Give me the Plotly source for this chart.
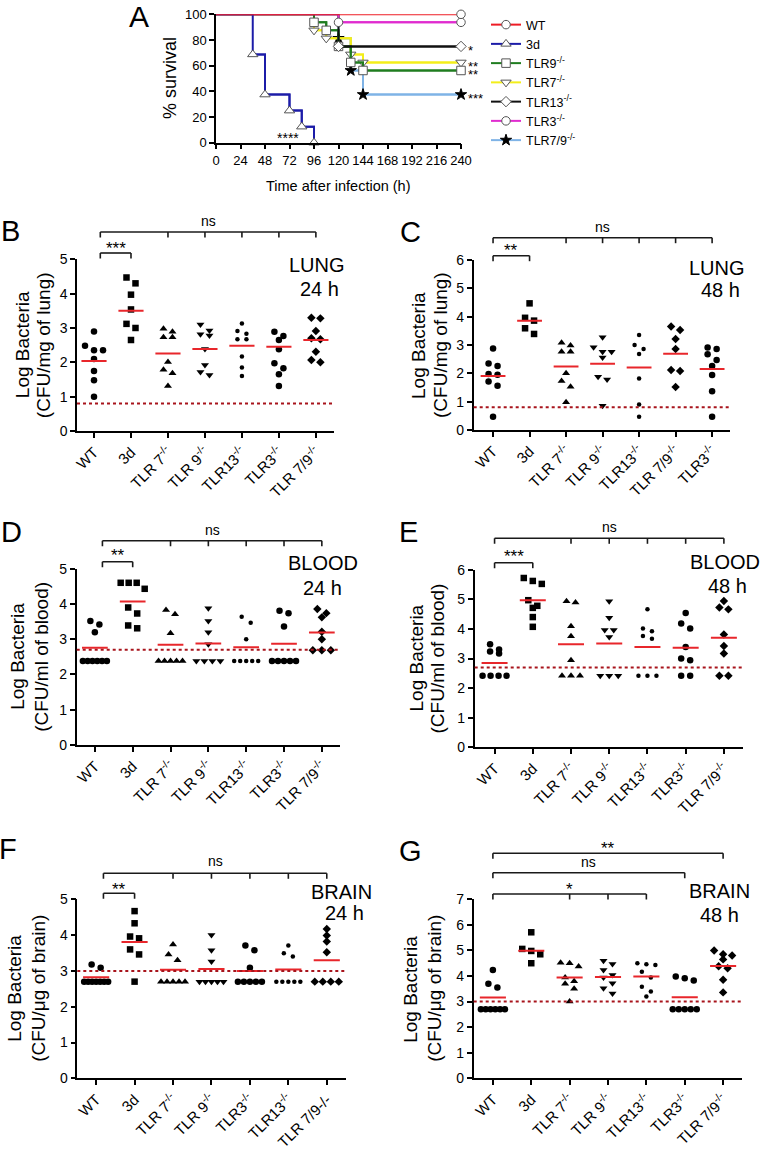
import plotly.graph_objects as go

W, H = 766, 1155
FONT = "Liberation Sans, Arial, Helvetica, sans-serif"

# ---------------- Panel A : survival (Kaplan-Meier) ----------------
wt_time = [0, 240]
wt_surv = [100, 100]
d3_time = [0, 36, 48, 72, 84, 96]
d3_surv = [100, 68.75, 37.5, 25, 12.5, 0]
tlr9_time = [0, 96, 108, 120, 132, 144, 240]
tlr9_surv = [100, 93.75, 87.5, 75, 62.5, 56.25, 56.25]
tlr7_time = [0, 96, 108, 132, 144, 240]
tlr7_surv = [100, 87.5, 81.25, 68.75, 62.5, 62.5]
tlr13_time = [0, 120, 240]
tlr13_surv = [100, 75, 75]
tlr3_time = [0, 120, 240]
tlr3_surv = [100, 93.75, 93.75]
tlr79_time = [0, 120, 132, 144, 240]
tlr79_surv = [100, 81.25, 56.25, 37.5, 37.5]
surv_sig = {"TLR13": "*", "TLR7": "**", "TLR9": "**", "TLR7/9": "***"}
d3_sig = "****"

# ---------------- Panels B-G : bacterial loads ----------------
lung24_cats = ["WT", "3d", "TLR7", "TLR9", "TLR13", "TLR3", "TLR7/9"]
lung24_vals = [
    [2.9, 2.48, 2.35, 2.35, 2.1, 1.75, 1.48, 1.0],
    [4.47, 4.3, 3.97, 3.54, 3.12, 3.0, 2.65],
    [2.98, 2.89, 2.73, 2.73, 2.01, 1.78, 1.68, 1.31],
    [3.1, 2.93, 2.82, 2.78, 2.39, 1.92, 1.72, 1.63],
    [3.13, 2.91, 2.83, 2.67, 2.67, 2.17, 1.85, 1.6],
    [2.89, 2.77, 2.65, 2.38, 1.97, 1.83, 1.65, 1.31],
    [3.3, 3.28, 2.91, 2.7, 2.67, 2.31, 2.07, 2.0],
]
lung24_means = [2.04, 3.5, 2.26, 2.39, 2.48, 2.45, 2.65]
lung24_lod = 0.8

lung48_cats = ["WT", "3d", "TLR7", "TLR9", "TLR13", "TLR7/9", "TLR3"]
lung48_vals = [
    [2.88, 2.35, 2.26, 1.98, 1.95, 1.71, 1.56, 0.47],
    [4.47, 3.96, 3.86, 3.59, 3.39],
    [3.08, 2.98, 2.76, 2.76, 2.0, 1.73, 1.53, 0.98],
    [3.27, 2.92, 2.76, 2.76, 2.56, 1.88, 1.78, 0.86],
    [3.35, 3.0, 2.86, 2.68, 1.82, 0.9, 0.47],
    [3.65, 3.53, 3.21, 2.86, 2.12, 2.08, 1.52],
    [2.91, 2.86, 2.67, 2.47, 2.26, 1.94, 1.37, 0.47],
]
lung48_means = [1.91, 3.86, 2.24, 2.34, 2.21, 2.69, 2.15]
lung48_lod = 0.8

blood24_cats = ["WT", "3d", "TLR7", "TLR9", "TLR13", "TLR3", "TLR7/9"]
blood24_vals = [
    [3.52, 3.42, 3.2, 2.38, 2.38, 2.38, 2.38, 2.38, 2.38],
    [4.6, 4.6, 4.6, 4.43, 3.9, 3.73, 3.39, 3.31],
    [3.83, 3.71, 3.17, 2.38, 2.38, 2.38, 2.38, 2.38],
    [3.88, 3.52, 3.2, 2.86, 2.38, 2.38, 2.38, 2.38],
    [3.64, 3.47, 3.0, 2.38, 2.38, 2.38, 2.38, 2.38],
    [3.81, 3.74, 3.36, 2.38, 2.38, 2.38, 2.38, 2.38],
    [3.86, 3.74, 3.62, 3.21, 3.0, 2.69, 2.69, 2.69],
]
blood24_means = [2.76, 4.07, 2.84, 2.88, 2.77, 2.87, 3.19]
blood24_lod = 2.7

blood48_cats = ["WT", "3d", "TLR7", "TLR9", "TLR13", "TLR3", "TLR7/9"]
blood48_vals = [
    [3.48, 3.3, 3.24, 3.17, 2.42, 2.42, 2.42, 2.42],
    [5.72, 5.62, 5.52, 4.97, 4.78, 4.71, 4.4, 4.07],
    [4.93, 4.89, 4.09, 3.75, 2.94, 2.42, 2.42, 2.42],
    [4.93, 4.38, 3.96, 3.96, 3.73, 2.42, 2.42, 2.42],
    [4.66, 4.01, 3.92, 3.76, 3.67, 2.42, 2.42, 2.42],
    [4.54, 4.18, 4.01, 3.39, 3.0, 2.94, 2.42, 2.42],
    [4.94, 4.72, 4.66, 3.81, 3.42, 3.17, 2.42, 2.42],
]
blood48_means = [2.85, 4.97, 3.48, 3.51, 3.39, 3.36, 3.7]
blood48_lod = 2.7

brain24_cats = ["WT", "3d", "TLR7", "TLR9", "TLR3", "TLR13", "TLR7/9"]
brain24_vals = [
    [3.18, 3.09, 2.7, 2.7, 2.7, 2.7, 2.7, 2.7, 2.7],
    [4.67, 4.33, 3.96, 3.91, 3.6, 3.46, 2.7],
    [3.74, 3.46, 3.3, 2.7, 2.7, 2.7, 2.7, 2.7],
    [4.0, 3.58, 3.26, 2.7, 2.7, 2.7, 2.7, 2.7],
    [3.71, 3.58, 3.09, 2.7, 2.7, 2.7, 2.7, 2.7],
    [3.71, 3.49, 3.4, 2.7, 2.7, 2.7, 2.7, 2.7],
    [4.17, 3.99, 3.82, 3.52, 2.7, 2.7, 2.7, 2.7],
]
brain24_means = [2.82, 3.81, 3.03, 3.05, 3.0, 3.04, 3.3]
brain24_lod = 3.0

brain48_cats = ["WT", "3d", "TLR7", "TLR9", "TLR13", "TLR3", "TLR7/9"]
brain48_vals = [
    [4.24, 3.7, 3.55, 2.7, 2.7, 2.7, 2.7, 2.7, 2.7],
    [5.71, 5.06, 4.98, 4.85, 4.5],
    [4.52, 4.5, 4.37, 3.94, 3.8, 3.7, 3.5, 3.0],
    [4.6, 4.47, 4.24, 4.04, 3.94, 3.72, 3.52, 3.32],
    [4.5, 4.46, 4.43, 4.17, 3.94, 3.58, 3.39, 3.2],
    [3.98, 3.91, 3.82, 2.7, 2.7, 2.7, 2.7, 2.7],
    [5.0, 4.85, 4.8, 4.65, 4.38, 4.3, 3.85, 3.36],
]
brain48_means = [3.16, 4.99, 3.94, 3.96, 3.98, 3.17, 4.39]
brain48_lod = 3.0

# ---------------- helpers / styles ----------------
LABEL = {"WT": "WT", "3d": "3d", "TLR7": "TLR 7<sup>-/-</sup>", "TLR9": "TLR 9<sup>-/-</sup>",
         "TLR13": "TLR13<sup>-/-</sup>", "TLR3": "TLR3<sup>-/-</sup>", "TLR7/9": "TLR 7/9<sup>-/-</sup>"}
DOT = {"WT": ("circle", 6.5), "3d": ("square", 6.5), "TLR7": ("triangle-up", 7),
       "TLR9": ("triangle-down", 7), "TLR13": ("circle", 4.5), "TLR3": ("circle", 6.5),
       "TLR7/9": ("diamond", 6.5)}


def fx(px):
    return px / W


def fy(py):
    return 1 - py / H


def txt(text, x, y, size, xref="paper", yref="paper", angle=0, **kw):
    d = dict(text=text, x=x, y=y, xref=xref, yref=yref, showarrow=False, textangle=angle,
             xanchor="center", yanchor="middle", font=dict(family=FONT, size=size, color="black"))
    d.update(kw)
    return d


def swarm(vals, ppu, ppc):
    idx = sorted(range(len(vals)), key=lambda i: -vals[i])
    groups = []
    for i in idx:
        if groups and (vals[groups[-1][0]] - vals[i]) * ppu < 6:
            groups[-1].append(i)
        else:
            groups.append([i])
    off = [0.0] * len(vals)
    for g in groups:
        n = len(g)
        if n > 1:
            step = min(9.0, 24.0 / (n - 1))
            for k, i in enumerate(g):
                off[i] = (k - (n - 1) / 2) * step / ppc
    return off


fig = go.Figure()
shapes, annots = [], []
lay = {}

axis_common = dict(showline=True, linecolor="black", linewidth=1.5, ticks="outside", ticklen=5,
                   tickwidth=1.5, tickcolor="black", showgrid=False, zeroline=False, automargin=False,
                   tickfont=dict(family=FONT, size=13, color="black"))

# ---------------- Panel A drawing ----------------
A_box = (216, 461, 14.3, 142.7)
lay["xaxis"] = dict(axis_common, domain=[fx(A_box[0]), fx(A_box[1])], range=[0, 240],
                    tickvals=list(range(0, 241, 24)), anchor="y")
lay["yaxis"] = dict(axis_common, domain=[fy(A_box[3]), fy(A_box[2])], range=[0, 100],
                    dtick=20, anchor="x")

surv = [  # drawing order (bottom -> top)
    ("TLR7/9", "TLR7/9<sup>-/-</sup>", tlr79_time, tlr79_surv, "#7fb3e6", "star", 8.5, 7),
    ("TLR7", "TLR7<sup>-/-</sup>", tlr7_time, tlr7_surv, "#f3ee1a", "triangle-down", 9, 4),
    ("TLR9", "TLR9<sup>-/-</sup>", tlr9_time, tlr9_surv, "#1f7d1f", "square", 8.5, 3),
    ("TLR13", "TLR13<sup>-/-</sup>", tlr13_time, tlr13_surv, "#111111", "diamond", 8, 5),
    ("TLR3", "TLR3<sup>-/-</sup>", tlr3_time, tlr3_surv, "#e02ccf", "circle", 8.5, 6),
    ("3d", "3d", d3_time, d3_surv, "#1c1ca8", "triangle-up", 9, 2),
    ("WT", "WT", wt_time, wt_surv, "#ee1c25", "circle", 8.5, 1),
]
for key, name, t, s, col, sym, sz, rank in surv:
    fig.add_trace(go.Scatter(x=t, y=s, mode="lines", line=dict(color=col, width=2, shape="hv"),
                             showlegend=False, cliponaxis=False, hoverinfo="skip",
                             xaxis="x", yaxis="y"))
    filled = sym == "star"
    fig.add_trace(go.Scatter(x=t[1:], y=s[1:], mode="lines+markers", name=name,
                             line=dict(color=col, width=2, shape="hv"),
                             marker=dict(symbol=sym, size=sz,
                                         color="black" if filled else "white",
                                         line=dict(color="#555555" if not filled else "black", width=1)),
                             legendrank=rank, cliponaxis=False, xaxis="x", yaxis="y"))
    if key in surv_sig:
        annots.append(txt(surv_sig[key], t[-1], s[-1], 13, xref="x", yref="y",
                          xanchor="left", xshift=5, yshift=-4))
annots.append(txt(d3_sig, fx(288), fy(138), 14))
annots.append(txt("A", fx(139), fy(16), 30))
annots.append(txt("% survival", fx(170), fy(78), 18, angle=-90))
annots.append(txt("Time after infection (h)", fx(338), fy(186), 14.5))

# ---------------- Panels B-G drawing ----------------
PANELS = [
    dict(n=2, cats=lung24_cats, vals=lung24_vals, means=lung24_means, lod=lung24_lod, ymax=5,
         box=(77, 334, 259.3, 431), xr=(-0.46, 6.49), letter=("B", 10, 231),
         ytitle=("Log Bacteria", "(CFU/mg of lung)", 22, 43), tag=("LUNG", "24 h", 317, 265, 319, 288.5),
         brackets=[(0.17, 6, [2, 3, 4, 5], 27.3, "ns", 38), (0.17, 1, [], 6.3, "***", 16)]),
    dict(n=3, cats=lung48_cats, vals=lung48_vals, means=lung48_means, lod=lung48_lod, ymax=6,
         box=(473.7, 730, 260, 430), xr=(-0.53, 6.49), letter=("C", 410, 232),
         ytitle=("Log Bacteria", "(CFU/mg of lung)", 418, 440), tag=("LUNG", "48 h", 717, 267.5, 720, 290.5),
         brackets=[(0, 6, [2, 3, 4, 5], 22.3, "ns", 33), (0, 1, [], 4.3, "**", 14)]),
    dict(n=4, cats=blood24_cats, vals=blood24_vals, means=blood24_means, lod=blood24_lod, ymax=5,
         box=(76.7, 340, 568.7, 745), xr=(-0.48, 6.48), letter=("D", 11, 532),
         ytitle=("Log Bacteria", "(CFU/ml of blood)", 18, 42), tag=("BLOOD", "24 h", 323, 563.5, 322, 588),
         brackets=[(0.2, 6, [2, 3, 4, 5], 28, "ns", 38.7), (0.2, 1, [], 7, "**", 18.7)]),
    dict(n=5, cats=blood48_cats, vals=blood48_vals, means=blood48_means, lod=blood48_lod, ymax=6,
         box=(474.7, 743, 569.7, 747.3), xr=(-0.52, 6.5), letter=("E", 408, 532),
         ytitle=("Log Bacteria", "(CFU/ml of blood)", 416, 437), tag=("BLOOD", "48 h", 725, 561.5, 727, 586),
         brackets=[(0, 6, [2, 3, 4, 5], 31.4, "ns", 43), (0, 1, [], 7, "***", 18)]),
    dict(n=6, cats=brain24_cats, vals=brain24_vals, means=brain24_means, lod=brain24_lod, ymax=5,
         box=(77.3, 346, 899.3, 1078.3), xr=(-0.49, 6.5), letter=("F", 8, 849),
         ytitle=("Log Bacteria", "(CFU/μg of brain)", 15, 39), tag=("BRAIN", "24 h", 341, 892, 344, 913),
         brackets=[(0.19, 6, [2, 3, 4, 5], 26, "ns", 38.3), (0.19, 1, [], 6, "**", 15)],
         last_plain=True),
    dict(n=7, cats=brain48_cats, vals=brain48_vals, means=brain48_means, lod=brain48_lod, ymax=7,
         box=(473.7, 742.3, 899.3, 1078.3), xr=(-0.5, 6.5), letter=("G", 410, 851),
         ytitle=("Log Bacteria", "(CFU/μg of brain)", 411, 435), tag=("BRAIN", "48 h", 719, 890.5, 719, 915),
         brackets=[(0, 6, [], 46, "**", 56), (0, 5, [], 26.6, "ns", 37.6), (0, 4, [2, 3], 5.3, "*", 15)]),
]

for P in PANELS:
    n = P["n"]
    l, r, t, b = P["box"]
    xr0, xr1 = P["xr"]
    hpx = b - t
    ppu = hpx / P["ymax"]
    ppc = (r - l) / (xr1 - xr0)
    labels = [LABEL[c] for c in P["cats"]]
    if P.get("last_plain"):
        labels[-1] = "TLR 7/9-/-"
    lay[f"xaxis{n}"] = dict(axis_common, domain=[fx(l), fx(r)], range=[xr0, xr1], anchor=f"y{n}",
                            tickvals=list(range(len(P["cats"]))), ticktext=labels, tickangle=-45,
                            tickfont=dict(family=FONT, size=15, color="black"))
    lay[f"yaxis{n}"] = dict(axis_common, domain=[fy(b), fy(t)], range=[0, P["ymax"]], dtick=1,
                            anchor=f"x{n}", tickfont=dict(family=FONT, size=14, color="black"))
    # limit of detection
    shapes.append(dict(type="line", xref=f"x{n} domain", yref=f"y{n}", x0=0, x1=1,
                       y0=P["lod"], y1=P["lod"], line=dict(color="#a8141c", width=2, dash="dot")))
    # points
    for i, (c, v) in enumerate(zip(P["cats"], P["vals"])):
        off = swarm(v, ppu, ppc)
        sym, sz = DOT[c]
        fig.add_trace(go.Scatter(x=[i + o for o in off], y=v, mode="markers", showlegend=False,
                                 marker=dict(symbol=sym, size=sz, color="black", line=dict(width=0)),
                                 cliponaxis=False, xaxis=f"x{n}", yaxis=f"y{n}"))
    # mean bars
    mx, my = [], []
    for i, m in enumerate(P["means"]):
        mx += [i - 0.34, i + 0.34, None]
        my += [m, m, None]
    fig.add_trace(go.Scatter(x=mx, y=my, mode="lines", line=dict(color="#e8262b", width=2),
                             showlegend=False, hoverinfo="skip", xaxis=f"x{n}", yaxis=f"y{n}"))
    # significance brackets (levels given in pixels above the plot top)
    for x0, x1, ticks, above, lab, lab_above in P["brackets"]:
        yl = fy(t - above)
        yt = fy(t - above + 5.5)
        ln = dict(color="#1a1a1a", width=1.6)
        shapes.append(dict(type="line", xref=f"x{n}", yref="paper", x0=x0, x1=x1, y0=yl, y1=yl, line=ln))
        for tk in [x0, x1] + ticks:
            shapes.append(dict(type="line", xref=f"x{n}", yref="paper", x0=tk, x1=tk, y0=yl, y1=yt, line=ln))
        star = lab.startswith("*")
        annots.append(txt(lab, (x0 + x1) / 2, fy(t - lab_above), 17 if star else 14,
                          xref=f"x{n}", yshift=-5 if star else 0))
    # texts
    letter, lx, ly = P["letter"]
    annots.append(txt(letter, fx(lx), fy(ly), 29))
    t1, t2, x1p, x2p = P["ytitle"]
    ymid = (t + b) / 2
    for tt, xp in ((t1, x1p), (t2, x2p)):
        annots.append(txt(tt, fx(xp), fy(ymid), 19, angle=-90))
    a1, a2, ax1, ay1, ax2, ay2 = P["tag"]
    annots.append(txt(a1, fx(ax1), fy(ay1), 20))
    annots.append(txt(a2, fx(ax2), fy(ay2), 20))

fig.update_layout(
    width=W, height=H, margin=dict(l=0, r=0, t=0, b=0, autoexpand=False),
    paper_bgcolor="white", plot_bgcolor="white",
    font=dict(family=FONT, color="black"),
    showlegend=True,
    legend=dict(x=fx(486), y=fy(10), xanchor="left", yanchor="top", bgcolor="rgba(0,0,0,0)",
                font=dict(family=FONT, size=12.5, color="black"), tracegroupgap=0,
                itemwidth=30, borderwidth=0),
    shapes=shapes, annotations=annots, **lay,
)

fig.write_html("out.html", config={"displayModeBar": False},
               post_script="document.body.style.margin='0px';")
